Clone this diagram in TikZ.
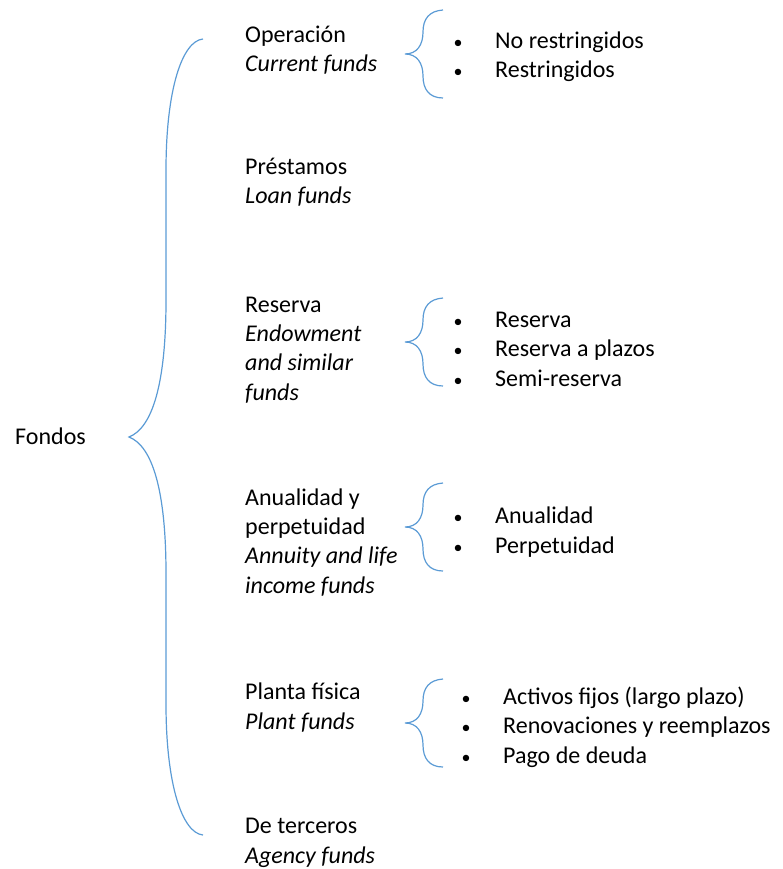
\documentclass[tikz,border=0pt]{standalone}
\usepackage{fontspec}
\setmainfont{Carlito}
\definecolor{bracecol}{RGB}{91,155,213}
\newcommand{\itm}[1]{\makebox[12pt][c]{\scalebox{0.75}{\textbullet}}\hspace{31pt}#1}

\begin{document}
\begin{tikzpicture}[x=1pt, y=-1pt,
	every node/.style={inner sep=0pt, font=\fontsize{24}{29.3}\selectfont},
	fund/.style={anchor=base west, align=left},
	fundbrace/.style={draw=bracecol, line width=1.2pt}]
	\useasboundingbox (0,0) rectangle (782,869);
	% left column (base = last line)
	\node (fondos) [fund] at (15,444) {Fondos};
	\node (oper) [fund] at (245,72) {Operación\\ \textit{Current funds}};
	\node (prest) [fund] at (245,204) {Préstamos\\ \textit{Loan funds}};
	\node (reserva) [fund] at (245,400) {Reserva\\ \textit{Endowment}\\ \textit{and similar}\\ \textit{funds}};
	\node (anual) [fund] at (245,593) {Anualidad y\\ perpetuidad\\ \textit{Annuity and life}\\ \textit{income funds}};
	\node (planta) [fund] at (245,729) {Planta física\\ \textit{Plant funds}};
	\node (terceros) [fund] at (245,863) {De terceros\\ \textit{Agency funds}};
	% sub lists
	\node (operlist) [fund] at (452,78) {\itm{No restringidos}\\ \itm{Restringidos}};
	\node (reservalist) [fund] at (452,386) {\itm{Reserva}\\ \itm{Reserva a plazos}\\ \itm{Semi-reserva}};
	\node (anuallist) [fund] at (452,553) {\itm{Anualidad}\\ \itm{Perpetuidad}};
	\node (plantalist) [fund] at (460,763) {\itm{Activos fijos (largo plazo)}\\ \itm{Renovaciones y reemplazos}\\ \itm{Pago de deuda}};
	% big brace
	\draw [fundbrace] (203,39) .. controls (182,41) and (166,90) .. (166,170) -- (166,300)
		.. controls (166,385) and (152,428) .. (129,437)
		.. controls (152,446) and (166,489) .. (166,574) -- (166,704)
		.. controls (166,784) and (182,833) .. (203,835);
	% small braces
	\draw [fundbrace, shift={(405,54)}] (38,-44) .. controls (24,-43) and (18,-35) .. (18,-22) .. controls (18,-9) and (12,0) .. (0,0) .. controls (12,0) and (18,9) .. (18,22) .. controls (18,35) and (24,44) .. (38,44);
	\draw [fundbrace, shift={(405,342)}] (38,-44) .. controls (24,-43) and (18,-35) .. (18,-22) .. controls (18,-9) and (12,0) .. (0,0) .. controls (12,0) and (18,9) .. (18,22) .. controls (18,35) and (24,44) .. (38,44);
	\draw [fundbrace, shift={(405,527)}] (38,-44) .. controls (24,-43) and (18,-35) .. (18,-22) .. controls (18,-9) and (12,0) .. (0,0) .. controls (12,0) and (18,9) .. (18,22) .. controls (18,35) and (24,44) .. (38,44);
	\draw [fundbrace, shift={(405,723)}] (38,-44) .. controls (24,-43) and (18,-35) .. (18,-22) .. controls (18,-9) and (12,0) .. (0,0) .. controls (12,0) and (18,9) .. (18,22) .. controls (18,35) and (24,44) .. (38,44);
\end{tikzpicture}
\end{document}
